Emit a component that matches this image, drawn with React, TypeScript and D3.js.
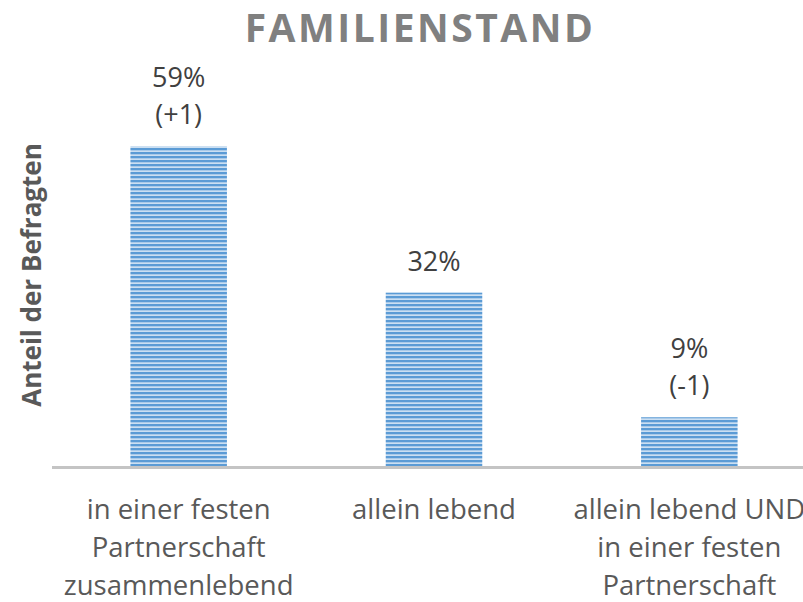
import React from "react";
import * as d3 from "d3";

const categories: string[][] = [
  ["in einer festen", "Partnerschaft", "zusammenlebend"],
  ["allein lebend"],
  ["allein lebend UND", "in einer festen", "Partnerschaft"],
];
const values: number[] = [59, 32, 9];
const changes: string[] = ["(+1)", "", "(-1)"];
const title = "FAMILIENSTAND";
const yTitle = "Anteil der Befragten";

const W = 803;
const H = 602;
const FONT = "'Open Sans', sans-serif";

export default function App() {
  const keys = values.map((_, i) => String(i));
  const x = d3.scaleBand<string>().domain(keys).range([51, 817]).paddingInner(0.622).paddingOuter(0.311);
  const y = d3.scaleLinear().domain([0, 60]).range([466, 141]);

  return (
    <svg width={W} height={H} style={{ position: "absolute", left: 0, top: 0, background: "#fff" }}>
      <defs>
        <pattern id="stripes" patternUnits="userSpaceOnUse" width={8} height={4}>
          <rect x={0} y={0} width={8} height={4} fill="#cbdff2" />
          <rect x={0} y={0} width={8} height={2.3} fill="#5b9bd5" />
        </pattern>
      </defs>
      <text
        x={420}
        y={42}
        textAnchor="middle"
        fontFamily={FONT}
        fontWeight={700}
        fontSize={39}
        fill="#808080"
        letterSpacing={2.5}
      >
        {title}
      </text>
      <text
        transform={`translate(41,275) rotate(-90)`}
        textAnchor="middle"
        fontFamily={FONT}
        fontWeight={700}
        fontSize={26}
        fill="#595959"
      >
        {yTitle}
      </text>
      {values.map((v, i) => {
        const bx = x(keys[i])!;
        const bw = x.bandwidth();
        const top = y(v);
        const cx = bx + bw / 2;
        const lines = changes[i] ? [`${v}%`, changes[i]] : [`${v}%`];
        return (
          <g key={i}>
            <rect x={bx} y={top} width={bw} height={y(0) - top} fill="url(#stripes)" />
            {lines.map((t, j) => (
              <text
                key={j}
                x={cx}
                y={top - 22 - (lines.length - 1 - j) * 37}
                textAnchor="middle"
                fontFamily={FONT}
                fontSize={27}
                fill="#404040"
              >
                {t}
              </text>
            ))}
            {categories[i].map((t, j) => (
              <text
                key={"c" + j}
                x={cx}
                y={519 + j * 38}
                textAnchor="middle"
                fontFamily={FONT}
                fontSize={27.5}
                fill="#595959"
              >
                {t}
              </text>
            ))}
          </g>
        );
      })}
      <line x1={52} x2={W} y1={467.5} y2={467.5} stroke="#c4c4c4" strokeWidth={3} />
    </svg>
  );
}
